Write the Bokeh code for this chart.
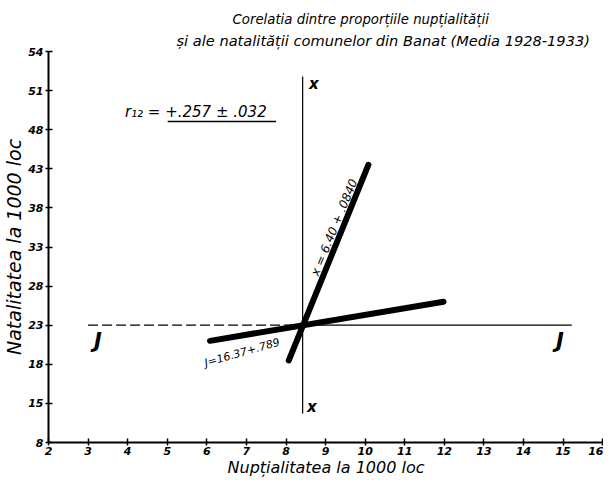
from bokeh.plotting import figure
from bokeh.models import Title, Label, Range1d, FixedTicker
from bokeh.embed import file_html
from bokeh.resources import INLINE

# ---- data ----
x_ticks = list(range(2, 17))
y_tick_pos = [8, 13, 18, 23, 28, 33, 38, 43, 48, 53, 58]
y_tick_labels = ["8", "15", "18", "23", "28", "33", "38", "43", "48", "51", "54"]

mean_x = 8.42   # mean nuptiality
mean_y = 23.0   # mean natality

# regression of natality on nuptiality:  y = 16.37 + .789 x
reg_y_x = [6.08, 11.98]
reg_y_y = [21.0, 26.0]
# regression of nuptiality on natality:  x = 6.40 + .0840 y
reg_x_x = [8.07, 10.08]
reg_x_y = [18.5, 43.5]

# mean lines
hline_dash_x = [3.0, 8.42]
hline_solid_x = [8.42, 15.22]
vline_y = [11.7, 54.8]

r_text = "r\u2081\u2082 = +.257 \u00b1 .032"
r_underline_x = [5.01, 7.75]
r_underline_y = [49.05, 49.05]

FONT = "DejaVu Sans"

p = figure(width=603, height=479, output_backend="svg", toolbar_location=None,
           x_range=Range1d(2, 16.02), y_range=Range1d(8, 58),
           min_border_left=43, min_border_right=0, min_border_top=51,
           min_border_bottom=33)
p.background_fill_color = "white"
p.border_fill_color = "white"
p.outline_line_color = None
p.grid.visible = False

# axes
for ax in (p.xaxis[0], p.yaxis[0]):
    ax.axis_line_width = 2
    ax.axis_line_color = "black"
    ax.major_tick_line_width = 1.5
    ax.major_tick_line_color = "black"
    ax.major_tick_in = 4
    ax.major_tick_out = 3
    ax.minor_tick_line_color = None
    ax.major_label_text_font = FONT
    ax.major_label_text_font_style = "bold italic"
    ax.major_label_text_font_size = "11px"
    ax.major_label_text_color = "black"
    ax.axis_label_text_font = FONT
    ax.axis_label_text_font_style = "italic"
    ax.axis_label_text_color = "black"

p.xaxis[0].ticker = FixedTicker(ticks=x_ticks)
p.xaxis[0].bounds = (2, 16)
p.xaxis[0].major_label_standoff = 1
p.xaxis[0].axis_label = "Nupțialitatea la 1000 loc"
p.xaxis[0].axis_label_text_font_size = "16px"
p.xaxis[0].axis_label_standoff = 0

p.yaxis[0].ticker = FixedTicker(ticks=y_tick_pos)
p.yaxis[0].major_label_overrides = {t: l for t, l in zip(y_tick_pos, y_tick_labels)}
p.yaxis[0].major_label_standoff = 2
p.yaxis[0].axis_label = "Natalitatea la 1000 loc"
p.yaxis[0].axis_label_text_font_size = "19px"
p.yaxis[0].axis_label_standoff = 0

# mean lines
p.line(hline_dash_x, [mean_y, mean_y], line_color="black", line_width=1.2, line_dash="10 4")
p.line(hline_solid_x, [mean_y, mean_y], line_color="black", line_width=1.2)
p.line([mean_x, mean_x], vline_y, line_color="black", line_width=1.2)

# regression lines
p.line(reg_y_x, reg_y_y, line_color="black", line_width=6, line_cap="round")
p.line(reg_x_x, reg_x_y, line_color="black", line_width=6, line_cap="round")

# r12 + underline
p.line(r_underline_x, r_underline_y, line_color="black", line_width=1.5)
p.add_layout(Label(x=3.93, y=50.3, text=r_text, text_font=FONT, text_font_style="italic",
                   text_font_size="15px", text_color="black",
                   text_baseline="middle", text_align="left"))

# axis letters
for (lx, ly, t, fs) in [(8.70, 53.8, "x", "15px"), (8.65, 12.6, "x", "15px"),
                        (3.25, 21.0, "J", "21px"), (14.92, 21.0, "J", "21px")]:
    p.add_layout(Label(x=lx, y=ly, text=t, text_font=FONT, text_font_style="bold italic",
                       text_font_size=fs, text_color="black",
                       text_align="center", text_baseline="middle"))

# regression equations along lines
p.add_layout(Label(x=9.22, y=35.5, text="x = 6.40 + .0840", text_font=FONT,
                   text_font_style="italic", text_font_size="12px", angle=1.18,
                   text_color="black", text_align="center", text_baseline="middle"))
p.add_layout(Label(x=6.89, y=19.5, text="J=16.37+.789", text_font=FONT,
                   text_font_style="italic", text_font_size="11px", angle=0.28,
                   text_color="black", text_align="center", text_baseline="middle"))

# titles (inner line first)
p.add_layout(Title(text="și ale natalității comunelor din Banat (Media 1928-1933)",
                   align="left", offset=128, text_font=FONT, text_font_style="italic",
                   text_font_size="14.6px", text_color="black", standoff=5), "above")
p.add_layout(Title(text="Corelatia dintre proporțiile nupțialității",
                   align="left", offset=184, text_font=FONT, text_font_style="italic",
                   text_font_size="13.3px", text_color="black", standoff=2), "above")

open("out.html", "w").write(file_html(p, INLINE))
